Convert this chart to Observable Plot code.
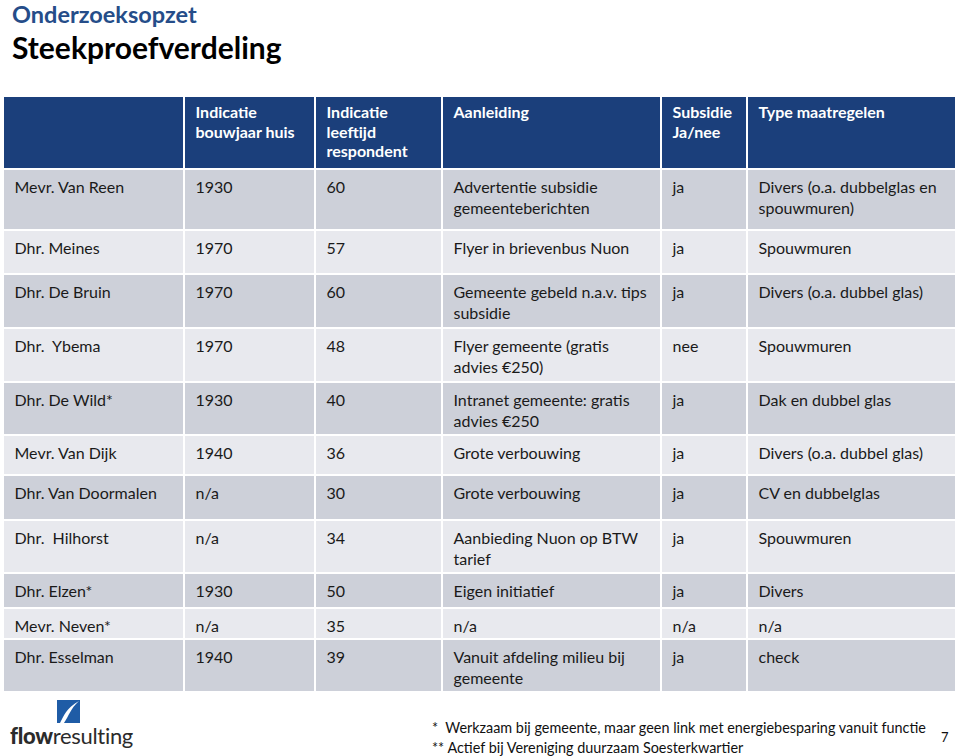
<!DOCTYPE html>
<html>
<head>
<meta charset="utf-8">
<script src="https://cdn.jsdelivr.net/npm/d3@7"></script>
<script src="https://cdn.jsdelivr.net/npm/@observablehq/plot@0.6"></script>
<style>
  html, body { margin: 0; padding: 0; background: #fff; }
  #page { position: relative; width: 960px; height: 756px; overflow: hidden; font-family: Lato, "Open Sans", sans-serif; }
  #title { position: absolute; left: 12px; top: 0px; }
  #t1 { font-size: 23.5px; font-weight: 700; color: #254d89; line-height: 28.5px; }
  #t2 { font-size: 30px; font-weight: 700; color: #000; line-height: 36px; margin-top: 0; }
  #chart { position: absolute; left: 0; top: 90px; }
  .foot { position: absolute; font-size: 14.4px; color: #111; white-space: nowrap; }
  #logo { position: absolute; left: 8px; top: 698px; }
  #brand { position: absolute; left: 10px; top: 722px; font-size: 22px; color: #2b2b2b; white-space: nowrap; letter-spacing: -0.3px; }
</style>
</head>
<body>
<div id="page">
  <div id="title"><div id="t1">Onderzoeksopzet</div><div id="t2">Steekproefverdeling</div></div>
  <div id="chart"></div>
  <svg id="logo" width="80" height="28" viewBox="0 0 80 28">
    <rect x="49" y="2" width="23" height="23" fill="#1f5ca6"/>
    <path d="M52 25 C 56 18, 58 10, 71 3 C 62 11, 61 18, 56 25 Z" fill="#fff"/>
  </svg>
  <div id="brand"><b style="font-weight:900">flow</b>resulting</div>
  <div class="foot" style="left:432px; top:719px;">*&nbsp; Werkzaam bij gemeente, maar geen link met energiebesparing vanuit functie</div>
  <div class="foot" style="left:432px; top:739px;">** Actief bij Vereniging duurzaam Soesterkwartier</div>
  <div class="foot" style="left:941px; top:729px; font-size:13px;">7</div>
</div>
<script>
// ---- data ----
const headers = ["", "Indicatie\nbouwjaar huis", "Indicatie\nleeftijd\nrespondent", "Aanleiding", "Subsidie\nJa/nee", "Type maatregelen"];
const names = ["Mevr. Van Reen", "Dhr. Meines", "Dhr. De Bruin", "Dhr.  Ybema", "Dhr. De Wild*", "Mevr. Van Dijk", "Dhr. Van Doormalen", "Dhr.  Hilhorst", "Dhr. Elzen*", "Mevr. Neven*", "Dhr. Esselman"];
const bouwjaar = ["1930", "1970", "1970", "1970", "1930", "1940", "n/a", "n/a", "1930", "n/a", "1940"];
const leeftijd = ["60", "57", "60", "48", "40", "36", "30", "34", "50", "35", "39"];
const aanleiding = ["Advertentie subsidie\ngemeenteberichten", "Flyer in brievenbus Nuon", "Gemeente gebeld n.a.v. tips\nsubsidie", "Flyer gemeente (gratis\nadvies €250)", "Intranet gemeente: gratis\nadvies €250", "Grote verbouwing", "Grote verbouwing", "Aanbieding Nuon op BTW\ntarief", "Eigen initiatief", "n/a", "Vanuit afdeling milieu bij\ngemeente"];
const subsidie = ["ja", "ja", "ja", "nee", "ja", "ja", "ja", "ja", "ja", "n/a", "ja"];
const maatregelen = ["Divers (o.a. dubbelglas en\nspouwmuren)", "Spouwmuren", "Divers (o.a. dubbel glas)", "Spouwmuren", "Dak en dubbel glas", "Divers (o.a. dubbel glas)", "CV en dubbelglas", "Spouwmuren", "Divers", "n/a", "check"];

// ---- layout (page pixel coordinates) ----
const colEdges = [4, 185, 316, 443, 662, 748, 957];
const rowEdges = [97, 170, 231, 275, 329, 383, 436, 476, 521, 574, 609, 640, 693];
const gap = 2;
const headerFill = "#1b3f7b";
const darkFill = "#cdd0d9";
const lightFill = "#e8e9ee";

const columns = [names, bouwjaar, leeftijd, aanleiding, subsidie, maatregelen];
const cells = [];
const texts = [];
headers.forEach((h, c) => {
  cells.push({x1: colEdges[c], x2: colEdges[c + 1] - gap, y1: rowEdges[0], y2: rowEdges[1] - gap, fill: headerFill});
  if (h) texts.push({x: colEdges[c] + 10, y: rowEdges[0] + 7, text: h, header: true});
});
names.forEach((_, r) => {
  const fill = r % 2 === 0 ? darkFill : lightFill;
  columns.forEach((col, c) => {
    cells.push({x1: colEdges[c], x2: colEdges[c + 1] - gap, y1: rowEdges[r + 1], y2: rowEdges[r + 2] - gap, fill});
    texts.push({x: colEdges[c] + 10, y: rowEdges[r + 1] + 8, text: col[r], header: false});
  });
});

const plot = Plot.plot({
  width: 960,
  height: 604,
  margin: 0,
  x: {domain: [0, 960], range: [0, 960], axis: null},
  y: {domain: [90, 694], range: [0, 604], axis: null},
  color: {type: "identity"},
  style: {fontFamily: "Lato, 'Open Sans', sans-serif", background: "transparent"},
  marks: [
    Plot.rect(cells, {x1: "x1", x2: "x2", y1: "y1", y2: "y2", fill: "fill"}),
    Plot.text(texts.filter(d => d.header), {x: "x", y: "y", text: "text", textAnchor: "start", lineAnchor: "top", lineHeight: 1.22, fontSize: 16, fontWeight: "bold", fill: "#ffffff"}),
    Plot.text(texts.filter(d => !d.header), {x: "x", y: "y", text: "text", textAnchor: "start", lineAnchor: "top", lineHeight: 1.31, fontSize: 16, fill: "#1a1a1a"})
  ]
});
document.getElementById("chart").appendChild(plot);
</script>
</body>
</html>
